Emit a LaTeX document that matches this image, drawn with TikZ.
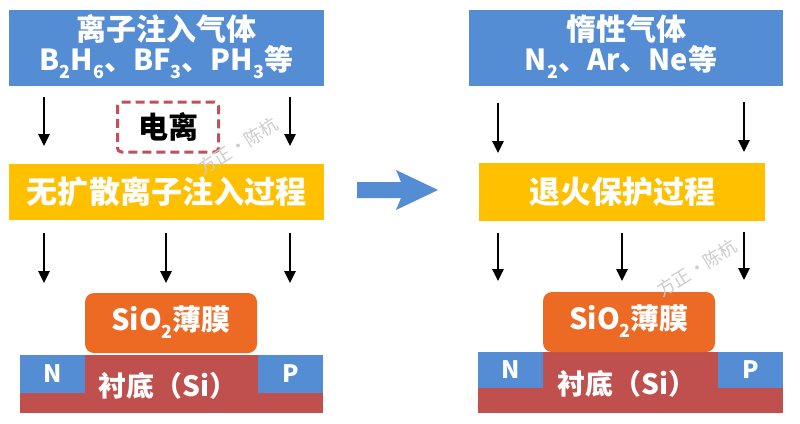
\documentclass[tikz,border=0pt]{standalone}
\usepackage{fontspec}
\setmainfont{Noto Sans CJK SC}
\usetikzlibrary{arrows.meta}
\definecolor{gasblue}{RGB}{84,141,212}
\definecolor{procyellow}{RGB}{255,192,0}
\definecolor{oxorange}{RGB}{237,106,36}
\definecolor{subred}{RGB}{192,80,77}
\definecolor{dashred}{RGB}{192,80,90}
\newcommand\lowsub[1]{\raisebox{-0.28em}{\scalebox{0.62}{#1}}}
\tikzset{
  gasbox/.style={fill=gasblue,draw=none,inner sep=0},
  procbox/.style={fill=procyellow,draw=none,inner sep=0},
  oxbox/.style={fill=oxorange,draw=none,rounded corners=9pt,inner sep=0},
  wtxt/.style={text=white,align=center,inner sep=0},
  nptxt/.style={fill=gasblue,inner sep=0,text=white,font=\bfseries\fontsize{24}{26}\selectfont},
  flow/.style={line width=2.6pt,-{Triangle[length=12pt,width=11pt]}},
  wm/.style={text=gray!40,font=\fontsize{18}{20}\selectfont,rotate=32}
}
\begin{document}
\begin{tikzpicture}[x=1pt,y=-1pt]
\useasboundingbox (0,0) rectangle (800,423);
\fill[white] (0,0) rectangle (800,423);

% ---------- left panel ----------
\node[gasbox,minimum width=315pt,minimum height=76pt] (gasL) at (166.5,48) {};
\node[wtxt,font=\bfseries\fontsize{30}{32}\selectfont] (gasLt) at (166.5,29) {离子注入气体};
\node[wtxt,font=\bfseries\fontsize{29}{30}\selectfont] (gasLf) at (166.5,62) {B\lowsub{2}H\lowsub{6}、BF\lowsub{3}、PH\lowsub{3}等};

\node[draw=dashred,line width=3pt,dash pattern=on 9pt off 5pt,rounded corners=4pt,minimum width=101pt,minimum height=50pt,inner sep=0,font=\bfseries\fontsize{30}{32}\selectfont] (ion) at (168,127) {电离};

\node[procbox,minimum width=315pt,minimum height=56pt] (procL) at (166.5,192) {};
\node[wtxt,font=\bfseries\fontsize{31}{33}\selectfont] at (procL) {无扩散离子注入过程};

\coordinate (aL1s) at (44,97);  \coordinate (aL1e) at (44,146);
\coordinate (aL2s) at (290,97); \coordinate (aL2e) at (290,146);
\draw[flow] (aL1s) -- (aL1e);
\draw[flow] (aL2s) -- (aL2e);

\coordinate (bL1s) at (44,233);  \coordinate (bL1e) at (44,283);
\coordinate (bL2s) at (166,233); \coordinate (bL2e) at (166,283);
\coordinate (bL3s) at (290,233); \coordinate (bL3e) at (290,283);
\draw[flow] (bL1s) -- (bL1e);
\draw[flow] (bL2s) -- (bL2e);
\draw[flow] (bL3s) -- (bL3e);

\fill[subred] (20,355) rectangle (323,413);
\node[nptxt,minimum width=65pt,minimum height=38pt] (nL) at (52.5,374) {N};
\node[nptxt,minimum width=65pt,minimum height=38pt] (pL) at (290.5,374) {P};
\node[wtxt,font=\bfseries\fontsize{28}{30}\selectfont] (subL) at (168,386) {衬底（Si）};
\node[oxbox,minimum width=172pt,minimum height=60pt] (oxL) at (171,323) {};
\node[wtxt,font=\bfseries\fontsize{29}{30}\selectfont] at (171,322) {SiO\lowsub{2}薄膜};

% ---------- big arrow ----------
\fill[gasblue] (357,182) -- (401,182) -- (396,170) -- (438,190) -- (396,210) -- (401,198) -- (357,198) -- cycle;
\coordinate (big) at (397,190);

% ---------- right panel ----------
\node[gasbox,minimum width=314pt,minimum height=76pt] (gasR) at (626,48) {};
\node[wtxt,font=\bfseries\fontsize{30}{32}\selectfont] at (626,29) {惰性气体};
\node[wtxt,font=\bfseries\fontsize{29}{30}\selectfont] at (621,62) {N\lowsub{2}、Ar、Ne等};

\node[procbox,minimum width=286pt,minimum height=58pt] (procR) at (622,192) {};
\node[wtxt,font=\bfseries\fontsize{31}{33}\selectfont] at (procR) {退火保护过程};

\coordinate (aR1s) at (498,103); \coordinate (aR1e) at (498,153);
\coordinate (aR2s) at (744,102); \coordinate (aR2e) at (744,152);
\draw[flow] (aR1s) -- (aR1e);
\draw[flow] (aR2s) -- (aR2e);

\coordinate (bR1s) at (498,233); \coordinate (bR1e) at (498,281);
\coordinate (bR2s) at (622,233); \coordinate (bR2e) at (622,281);
\coordinate (bR3s) at (744,232); \coordinate (bR3e) at (744,280);
\draw[flow] (bR1s) -- (bR1e);
\draw[flow] (bR2s) -- (bR2e);
\draw[flow] (bR3s) -- (bR3e);

\fill[subred] (478,352) rectangle (783,413);
\node[nptxt,minimum width=65pt,minimum height=36pt] (nR) at (510.5,370) {N};
\node[nptxt,minimum width=65pt,minimum height=36pt] (pR) at (750.5,370) {P};
\node[wtxt,font=\bfseries\fontsize{28}{30}\selectfont] (subR) at (627,384) {衬底（Si）};
\node[oxbox,minimum width=172pt,minimum height=60pt] (oxR) at (629,322) {};
\node[wtxt,font=\bfseries\fontsize{29}{30}\selectfont] at (629,321) {SiO\lowsub{2}薄膜};

% ---------- watermarks ----------
\node[wm] (wm1) at (238,146) {方正·陈杭};
\node[wm] (wm2) at (697,268) {方正·陈杭};
\end{tikzpicture}
\end{document}
